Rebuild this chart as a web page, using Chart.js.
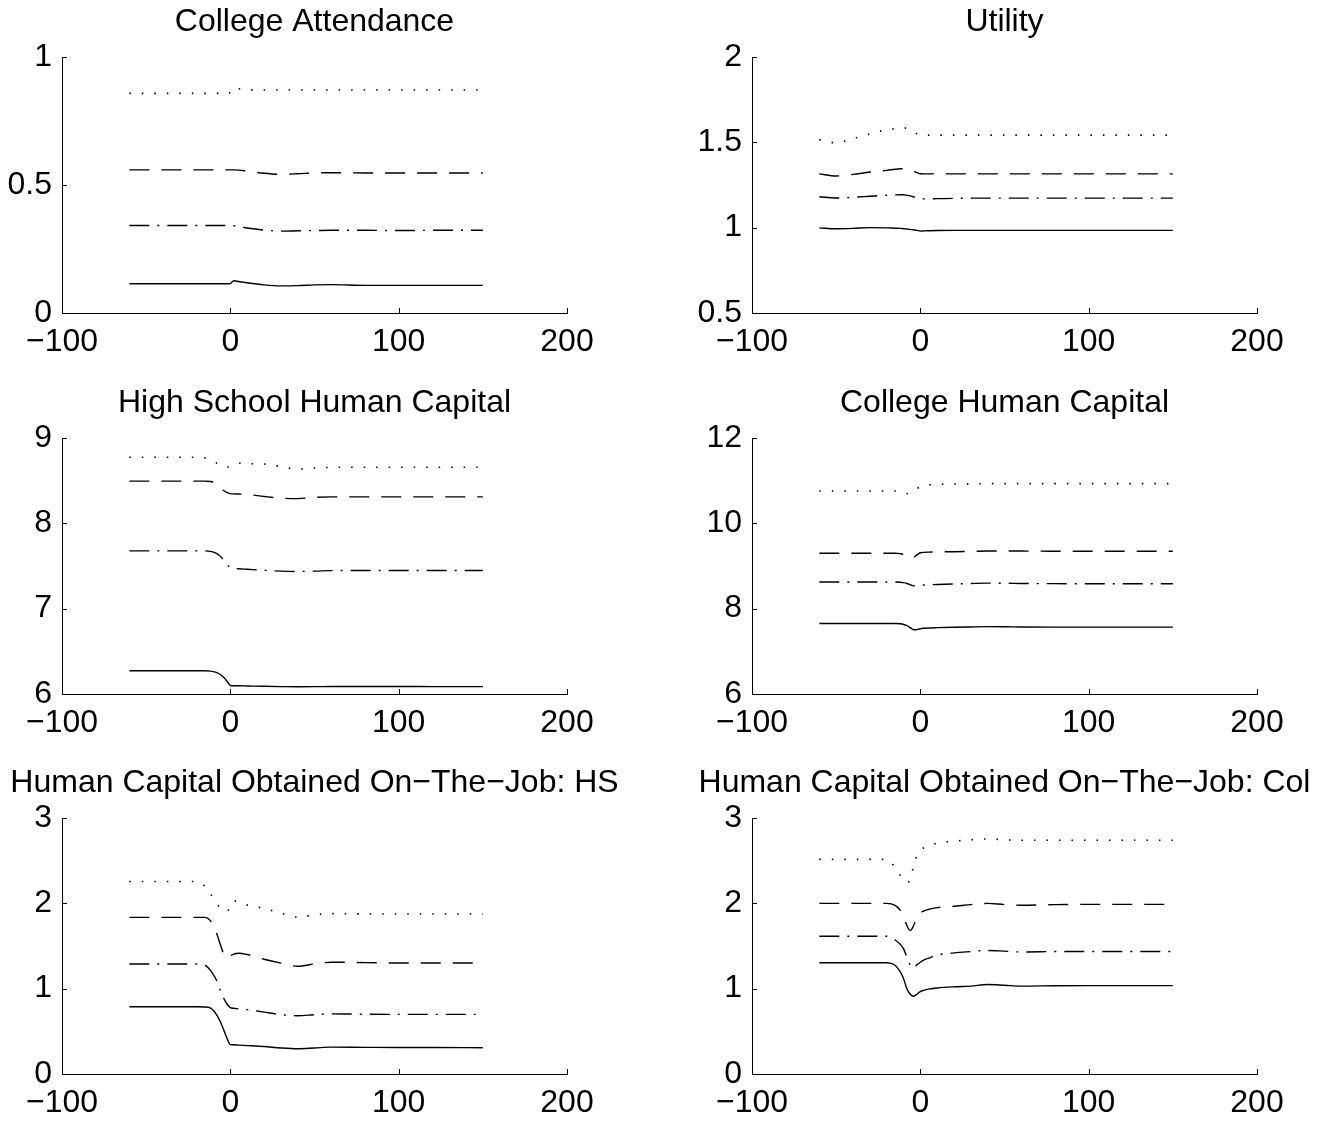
<!DOCTYPE html>
<html>
<head>
<meta charset="utf-8">
<script src="https://cdn.jsdelivr.net/npm/chart.js@4"></script>
<style>
  html, body { margin: 0; padding: 0; background: #fff; overflow: hidden; }
  #wrap { position: relative; width: 1325px; height: 1121px; }
  canvas { position: absolute; }
</style>
</head>
<body>
<div id="wrap"></div>
<script>
// time axis shared by every panel
const xs = [-60, -50, -40, -30, -20, -15, -12, -10, -8, -6, -4, -2, 0, 2, 5, 10, 20, 30, 40, 50, 60, 80, 100, 120, 150];

const titles = [
  'College Attendance',
  'Utility',
  'High School Human Capital',
  'College Human Capital',
  'Human Capital Obtained On\u2212The\u2212Job: HS',
  'Human Capital Obtained On\u2212The\u2212Job: Col'
];
const yMin = [0, 0.5, 6, 6, 0, 0];
const yMax = [1, 2, 9, 12, 3, 3];
const yStep = [0.5, 0.5, 1, 2, 1, 1];
const xMin = -100, xMax = 200, xStep = 100;

// College Attendance
const attendSolid   = [0.114, 0.114, 0.114, 0.114, 0.114, 0.114, 0.114, 0.114, 0.114, 0.114, 0.114, 0.114, 0.115, 0.126, 0.123, 0.118, 0.110, 0.106, 0.107, 0.110, 0.111, 0.108, 0.108, 0.108, 0.108];
const attendDashDot = [0.342, 0.342, 0.342, 0.342, 0.342, 0.342, 0.342, 0.342, 0.342, 0.342, 0.342, 0.342, 0.342, 0.341, 0.338, 0.332, 0.324, 0.320, 0.321, 0.322, 0.323, 0.323, 0.322, 0.323, 0.323];
const attendDashed  = [0.559, 0.559, 0.559, 0.559, 0.559, 0.559, 0.559, 0.559, 0.559, 0.559, 0.559, 0.559, 0.559, 0.559, 0.558, 0.554, 0.546, 0.542, 0.544, 0.547, 0.548, 0.547, 0.547, 0.547, 0.547];
const attendDotted  = [0.858, 0.858, 0.858, 0.858, 0.858, 0.858, 0.858, 0.858, 0.858, 0.858, 0.858, 0.855, 0.862, 0.880, 0.876, 0.872, 0.871, 0.871, 0.871, 0.871, 0.871, 0.871, 0.871, 0.871, 0.871];

// Utility
const utilSolid   = [0.999, 0.994, 0.996, 1.000, 0.999, 0.997, 0.996, 0.994, 0.992, 0.990, 0.987, 0.984, 0.980, 0.981, 0.982, 0.983, 0.984, 0.984, 0.984, 0.984, 0.984, 0.984, 0.984, 0.984, 0.984];
const utilDashDot = [1.181, 1.174, 1.178, 1.184, 1.190, 1.192, 1.193, 1.193, 1.190, 1.186, 1.180, 1.175, 1.171, 1.169, 1.168, 1.170, 1.172, 1.173, 1.173, 1.173, 1.173, 1.173, 1.173, 1.173, 1.173];
const utilDashed  = [1.315, 1.303, 1.312, 1.326, 1.336, 1.342, 1.345, 1.346, 1.345, 1.340, 1.332, 1.322, 1.316, 1.315, 1.315, 1.315, 1.315, 1.315, 1.315, 1.315, 1.315, 1.315, 1.315, 1.315, 1.315];
const utilDotted  = [1.516, 1.497, 1.522, 1.549, 1.574, 1.580, 1.584, 1.585, 1.582, 1.575, 1.562, 1.550, 1.542, 1.541, 1.542, 1.542, 1.542, 1.542, 1.542, 1.542, 1.542, 1.542, 1.542, 1.542, 1.542];

// High School Human Capital
const hsSolid   = [6.272, 6.272, 6.272, 6.272, 6.272, 6.272, 6.268, 6.262, 6.250, 6.228, 6.195, 6.150, 6.100, 6.097, 6.096, 6.094, 6.090, 6.087, 6.085, 6.086, 6.088, 6.088, 6.088, 6.087, 6.086];
const hsDashDot = [7.677, 7.677, 7.677, 7.677, 7.677, 7.677, 7.672, 7.662, 7.645, 7.615, 7.572, 7.520, 7.480, 7.472, 7.468, 7.462, 7.450, 7.440, 7.436, 7.440, 7.446, 7.447, 7.447, 7.447, 7.447];
const hsDashed  = [8.495, 8.495, 8.495, 8.495, 8.495, 8.495, 8.490, 8.480, 8.455, 8.420, 8.385, 8.360, 8.348, 8.345, 8.343, 8.338, 8.315, 8.295, 8.290, 8.305, 8.310, 8.310, 8.310, 8.310, 8.310];
const hsDotted  = [8.775, 8.775, 8.775, 8.775, 8.775, 8.765, 8.745, 8.725, 8.705, 8.685, 8.668, 8.660, 8.665, 8.690, 8.705, 8.700, 8.695, 8.665, 8.635, 8.648, 8.656, 8.658, 8.658, 8.658, 8.658];

// College Human Capital
const colSolid   = [7.653, 7.653, 7.653, 7.653, 7.653, 7.653, 7.645, 7.630, 7.600, 7.555, 7.505, 7.510, 7.530, 7.540, 7.548, 7.555, 7.565, 7.572, 7.578, 7.576, 7.572, 7.568, 7.568, 7.568, 7.568];
const colDashDot = [8.624, 8.624, 8.624, 8.624, 8.624, 8.624, 8.620, 8.610, 8.590, 8.560, 8.535, 8.540, 8.548, 8.555, 8.560, 8.568, 8.580, 8.590, 8.598, 8.596, 8.590, 8.586, 8.585, 8.585, 8.585];
const colDashed  = [9.299, 9.299, 9.299, 9.299, 9.299, 9.299, 9.290, 9.270, 9.215, 9.185, 9.200, 9.260, 9.310, 9.320, 9.326, 9.330, 9.335, 9.342, 9.350, 9.353, 9.350, 9.347, 9.345, 9.345, 9.345];
const colDotted  = [10.758, 10.758, 10.758, 10.758, 10.758, 10.758, 10.750, 10.730, 10.700, 10.710, 10.750, 10.810, 10.860, 10.880, 10.900, 10.912, 10.920, 10.925, 10.930, 10.930, 10.930, 10.930, 10.930, 10.930, 10.930];

// Human Capital Obtained On-The-Job: HS
const otjHsSolid   = [0.788, 0.788, 0.788, 0.788, 0.788, 0.786, 0.775, 0.745, 0.690, 0.615, 0.520, 0.420, 0.345, 0.342, 0.338, 0.333, 0.322, 0.305, 0.296, 0.305, 0.315, 0.312, 0.310, 0.310, 0.308];
const otjHsDashDot = [1.289, 1.289, 1.289, 1.289, 1.289, 1.275, 1.220, 1.160, 1.090, 0.980, 0.890, 0.820, 0.778, 0.770, 0.765, 0.755, 0.725, 0.695, 0.683, 0.695, 0.705, 0.700, 0.699, 0.699, 0.699];
const otjHsDashed  = [1.836, 1.836, 1.836, 1.836, 1.836, 1.836, 1.800, 1.730, 1.640, 1.520, 1.410, 1.360, 1.385, 1.405, 1.415, 1.400, 1.345, 1.300, 1.262, 1.290, 1.310, 1.305, 1.300, 1.300, 1.300];
const otjHsDotted  = [2.255, 2.255, 2.255, 2.255, 2.255, 2.200, 2.120, 2.050, 1.990, 1.950, 1.920, 1.905, 1.960, 2.030, 2.010, 1.980, 1.940, 1.885, 1.838, 1.865, 1.880, 1.876, 1.875, 1.875, 1.875];

// Human Capital Obtained On-The-Job: Col
const otjColSolid   = [1.304, 1.304, 1.304, 1.304, 1.304, 1.275, 1.200, 1.120, 1.000, 0.935, 0.912, 0.935, 0.965, 0.980, 0.994, 1.008, 1.022, 1.030, 1.048, 1.040, 1.030, 1.034, 1.036, 1.036, 1.036];
const otjColDashDot = [1.614, 1.614, 1.614, 1.614, 1.614, 1.570, 1.520, 1.470, 1.370, 1.280, 1.240, 1.280, 1.310, 1.335, 1.358, 1.395, 1.420, 1.435, 1.448, 1.440, 1.430, 1.435, 1.436, 1.436, 1.436];
const otjColDashed  = [1.999, 1.999, 1.999, 1.999, 1.999, 1.975, 1.920, 1.850, 1.740, 1.680, 1.740, 1.840, 1.890, 1.910, 1.930, 1.950, 1.965, 1.985, 1.999, 1.985, 1.978, 1.985, 1.988, 1.988, 1.988];
const otjColDotted  = [2.515, 2.515, 2.515, 2.515, 2.515, 2.420, 2.330, 2.270, 2.245, 2.280, 2.440, 2.560, 2.620, 2.650, 2.675, 2.705, 2.728, 2.745, 2.755, 2.745, 2.740, 2.740, 2.740, 2.740, 2.740];

const panels = [
  [attendSolid, attendDashDot, attendDashed, attendDotted],
  [utilSolid, utilDashDot, utilDashed, utilDotted],
  [hsSolid, hsDashDot, hsDashed, hsDotted],
  [colSolid, colDashDot, colDashed, colDotted],
  [otjHsSolid, otjHsDashDot, otjHsDashed, otjHsDotted],
  [otjColSolid, otjColDashDot, otjColDashed, otjColDotted]
];

// solid, dash-dot, dashed, dotted
const dashes = [[], [20, 8, 2, 8], [20, 12], [1.5, 11]];

const FONT = "'Liberation Sans', Arial, Helvetica, sans-serif";
const AXIS_W = 62;      // room left of the y axis (mirrored on the right so titles center on the plot)
const PLOT_W = 505;
const PLOT_H = 256;
const TOP_H = 57;
const CANVAS_H = 360;
const colLeft = [0, 690];
const rowTop = [0, 381, 761];

// MATLAB style ticks that point into the plot
const innerTicks = {
  id: 'innerTicks',
  afterDraw(chart) {
    const ctx = chart.ctx;
    const sx = chart.scales.x, sy = chart.scales.y;
    const a = chart.chartArea;
    ctx.save();
    ctx.strokeStyle = '#000';
    ctx.lineWidth = 1;
    ctx.beginPath();
    sx.ticks.forEach(t => {
      const px = Math.round(sx.getPixelForValue(t.value)) + 0.5;
      ctx.moveTo(px, a.bottom);
      ctx.lineTo(px, a.bottom - 5);
    });
    sy.ticks.forEach(t => {
      const py = Math.round(sy.getPixelForValue(t.value)) + 0.5;
      ctx.moveTo(a.left, py);
      ctx.lineTo(a.left + 5, py);
    });
    ctx.stroke();
    ctx.restore();
  }
};

const wrap = document.getElementById('wrap');

panels.forEach((series, i) => {
  const col = i % 2, row = Math.floor(i / 2);
  const cv = document.createElement('canvas');
  const w = AXIS_W * 2 + PLOT_W;
  cv.width = w;
  cv.height = CANVAS_H;
  cv.style.left = colLeft[col] + 'px';
  cv.style.top = rowTop[row] + 'px';
  cv.style.width = w + 'px';
  cv.style.height = CANVAS_H + 'px';
  wrap.appendChild(cv);

  new Chart(cv.getContext('2d'), {
    type: 'line',
    data: {
      datasets: series.map((ys, k) => ({
        data: xs.map((x, j) => ({ x: x, y: ys[j] })),
        borderColor: '#000',
        borderWidth: k === 3 ? 1.6 : 1.4,
        borderDash: dashes[k],
        pointRadius: 0,
        fill: false,
        cubicInterpolationMode: 'monotone'
      }))
    },
    options: {
      responsive: false,
      animation: false,
      devicePixelRatio: 1,
      layout: { padding: 0 },
      plugins: {
        legend: { display: false },
        tooltip: { enabled: false },
        title: {
          display: true,
          text: titles[i],
          color: '#000',
          font: { family: FONT, size: 32, weight: 'normal', lineHeight: 1.2 },
          padding: { top: 2.5, bottom: TOP_H - 2.5 - 38.4 }
        }
      },
      scales: {
        x: {
          type: 'linear',
          min: xMin,
          max: xMax,
          grid: { display: false, drawTicks: false },
          border: { display: true, color: '#000', width: 1 },
          ticks: {
            stepSize: xStep,
            color: '#000',
            padding: 10,
            maxRotation: 0,
            font: { family: FONT, size: 32 },
            callback: v => String(v).replace('-', '\u2212')
          },
          afterFit: s => { s.height = CANVAS_H - TOP_H - PLOT_H; }
        },
        y: {
          type: 'linear',
          min: yMin[i],
          max: yMax[i],
          grid: { display: false, drawTicks: false },
          border: { display: true, color: '#000', width: 1 },
          ticks: {
            stepSize: yStep[i],
            color: '#000',
            padding: 10,
            font: { family: FONT, size: 32 },
            callback: v => String(v)
          },
          afterFit: s => { s.width = AXIS_W; }
        },
        // empty spacer on the right, same width as the left axis
        yRight: {
          type: 'linear',
          position: 'right',
          min: yMin[i],
          max: yMax[i],
          grid: { display: false, drawTicks: false },
          border: { display: false },
          ticks: { display: false },
          afterFit: s => { s.width = AXIS_W; }
        }
      }
    },
    plugins: [innerTicks]
  });
});
</script>
</body>
</html>
